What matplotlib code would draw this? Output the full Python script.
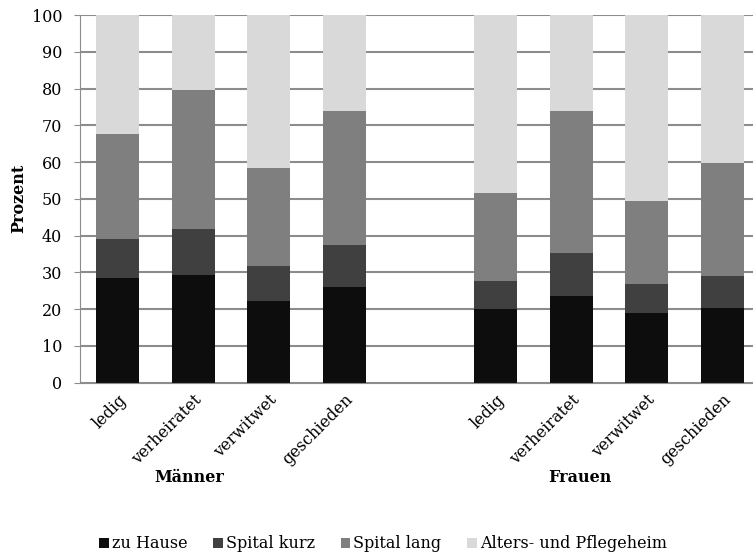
import numpy as np
import matplotlib.pyplot as plt

plt.rcParams["font.family"] = ["DejaVu Serif"]

categories = ["ledig", "verheiratet", "verwitwet", "geschieden",
              "", "ledig", "verheiratet", "verwitwet", "geschieden"]
series_names = ["zu Hause", "Spital kurz", "Spital lang", "Alters- und Pflegeheim"]

# shares per status in percent (Männer, empty slot, Frauen)
zu_hause = [28.6, 29.4, 22.3, 26.1, 0, 20.0, 23.7, 19.0, 20.4]
spital_kurz = [10.5, 12.5, 9.4, 11.3, 0, 7.7, 11.7, 7.8, 8.7]
spital_lang = [28.6, 37.8, 26.8, 36.6, 0, 24.0, 38.4, 22.5, 30.6]
heim = [32.3, 20.3, 41.5, 26.0, 0, 48.3, 26.2, 50.7, 40.3]

colors = ["#0d0d0d", "#404040", "#7f7f7f", "#d9d9d9"]
fs = 11.5

fig = plt.figure(figsize=(7.53, 5.54), dpi=100)
ax = fig.add_axes([80 / 753, 1 - 382.7 / 554, 680 / 753, 367.7 / 554])

x = np.arange(len(categories))
bottom = np.zeros(len(categories))
for name, vals, col in zip(series_names, [zu_hause, spital_kurz, spital_lang, heim], colors):
    ax.bar(x, vals, width=0.57, bottom=bottom, color=col, label=name, zorder=2)
    bottom += np.array(vals)

ax.set_xlim(-0.5, 8.5)
ax.set_ylim(0, 100)
ax.set_yticks(range(0, 101, 10))
ax.yaxis.grid(True, color="#8c8c8c", linewidth=1.5, zorder=0)
ax.set_axisbelow(True)
for side in ["top", "right"]:
    ax.spines[side].set_visible(False)
ax.spines["left"].set_color("#8c8c8c")
ax.spines["bottom"].set_color("#8c8c8c")
ax.tick_params(axis="y", length=4.3, color="#8c8c8c", labelsize=fs, pad=8.6)
ax.tick_params(axis="x", length=0, labelsize=fs, pad=6)
ax.set_xticks(x)
ax.set_xticklabels(categories, rotation=45, ha="right", va="top", rotation_mode="anchor")
ax.set_ylabel("Prozent", fontsize=fs, fontweight="bold", labelpad=3)

fig.text(189 / 753, 1 - 478 / 554, "Männer", ha="center", va="center",
         fontsize=fs, fontweight="bold")
fig.text(580 / 753, 1 - 478 / 554, "Frauen", ha="center", va="center",
         fontsize=fs, fontweight="bold")

fig.legend(loc="center", bbox_to_anchor=(383 / 753, 1 - 544 / 554), ncol=4,
           frameon=False, fontsize=fs, handlelength=0.6, handleheight=0.6,
           handletextpad=0.2, columnspacing=1.6)

fig.savefig("out.png", dpi=100)
